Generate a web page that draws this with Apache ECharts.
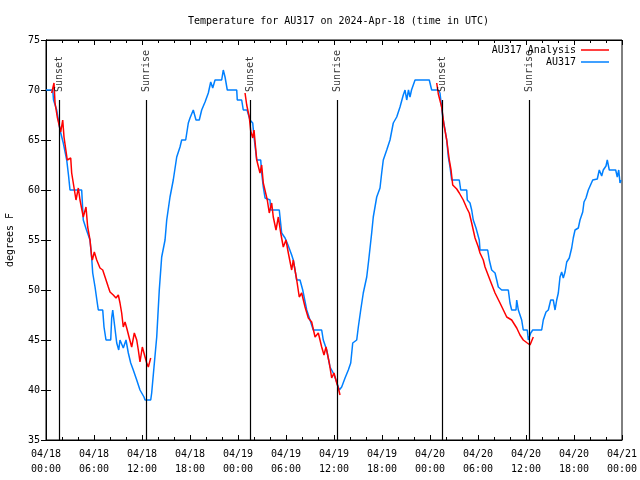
<!DOCTYPE html>
<html><head><meta charset="utf-8">
<script src="https://cdn.jsdelivr.net/npm/echarts@6/dist/echarts.min.js"></script>
<style>html,body{margin:0;padding:0;background:#fff}#c{width:640px;height:480px}</style>
</head><body><div id="c"></div>
<script>
const titleText = 'Temperature for AU317 on 2024-Apr-18 (time in UTC)';
const yAxisTitle = 'degrees F';
const xTickLabels = ['04/18\n00:00','04/18\n06:00','04/18\n12:00','04/18\n18:00','04/19\n00:00','04/19\n06:00','04/19\n12:00','04/19\n18:00','04/20\n00:00','04/20\n06:00','04/20\n12:00','04/20\n18:00','04/21\n00:00'];
const seriesNames = ['AU317 Analysis', 'AU317'];

// observed AU317 (hours since 04/18 00:00 UTC, degrees F)
const obsHours = [0.00,0.84,0.94,1.34,1.75,2.16,2.59,2.81,3.00,4.46,4.66,5.06,5.50,5.71,5.84,6.13,6.41,6.54,7.09,7.25,7.50,8.09,8.21,8.34,8.50,8.84,9.09,9.25,9.50,9.66,10.00,10.29,10.59,10.91,11.34,11.75,12.25,12.38,13.09,13.21,13.50,13.84,14.16,14.46,14.88,15.09,15.50,15.91,16.34,16.75,16.96,17.46,17.79,18.00,18.41,18.75,19.16,19.46,19.88,20.29,20.59,20.84,21.13,21.96,22.16,22.38,22.66,23.84,23.91,24.46,24.66,25.13,25.50,25.84,26.00,26.34,26.84,26.96,27.16,27.38,28.00,28.09,29.16,29.46,29.88,30.25,30.71,30.91,31.34,31.75,32.09,32.59,33.00,33.41,34.46,34.66,35.09,35.50,35.91,36.25,36.66,36.96,37.38,37.79,38.09,38.34,38.84,39.04,39.34,39.66,40.09,40.34,40.71,40.91,41.34,41.75,41.96,42.16,42.59,43.00,43.41,43.84,44.25,44.66,44.88,45.09,45.31,45.50,45.69,46.13,47.91,48.21,49.04,49.25,49.59,49.88,50.09,50.29,50.50,50.71,51.66,51.84,52.59,52.66,53.00,53.21,53.41,53.75,54.16,54.25,55.21,55.41,55.71,56.13,56.34,56.54,56.96,57.79,58.00,58.21,58.75,58.84,59.04,59.46,59.66,60.16,60.29,60.59,60.84,61.96,62.16,62.50,62.79,63.09,63.41,63.63,63.84,64.04,64.25,64.46,64.66,64.88,65.09,65.41,65.71,65.91,66.13,66.54,66.75,67.09,67.25,67.50,67.79,68.00,68.34,68.91,69.16,69.46,69.66,70.00,70.16,70.41,71.21,71.41,71.59,71.75,71.88];
const obsTemps = [70,70,69,68,66,64.7,63,61.5,60,60,57,56,55,53.2,51.7,50.3,48.7,48,48,46.3,45,45,47.2,48,48,44.7,44,45,45,44.2,45,43.7,42.7,42,41,40,39.3,39,39,39.7,42.3,45.3,50,53.3,55,57,59.3,61,63.3,64.3,65,65,66.7,67.2,68,67,67,68,68.8,69.7,70.8,70.2,71,71,72,71.3,70,70,69,69,68,68,67,66.7,65.3,63,63,61.7,60.3,59.2,59,58,58,55.7,55.2,54.5,53.5,53,51,51,50,48,47,46,46,45,44,42.3,41.7,41,40,40.3,41.2,42,42.7,44.7,45,46.3,48,49.7,51.3,53,55.7,57.3,59.3,60.2,61.7,63,64,65,66.7,67.3,68.3,69.5,70,69,70,69.3,70,71,71,70,70,69.7,67.3,66,65,63.3,62.3,61,61,60,60,59,58.7,58,57,56.2,55,54,54,53,52,51.7,51,50.3,50,50,48.7,48,48,49,48,47,46,46,45,45.7,46,46,47,47.8,48,49,49,48,49,49.7,51.3,51.8,51.2,51.8,52.8,53.2,54.2,55.2,56,56.2,57,57.8,58.8,59.2,60,60.2,61,61.1,62,61.4,62,62.4,63,62,62,61.3,62,60.7,61];

// analysis segments
const anaHours1 = [0.71,1.00,1.13,1.41,1.84,2.09,2.25,2.66,3.09,3.21,3.75,4.04,4.25,4.66,5.00,5.21,5.50,5.71,5.79,6.04,6.34,6.75,7.09,7.38,7.79,8.00,8.41,8.75,9.04,9.25,9.46,9.66,9.88,10.09,10.41,10.71,11.04,11.34,11.54,11.75,12.04,12.38,12.59,12.79,13.09];
const anaTemps1 = [69.7,70.7,68.7,67.3,65.8,67,65.3,63,63.2,61.7,59,60.2,59,57.3,58.3,56.3,55,53.3,53,53.8,53,52.2,52,51.3,50.3,49.8,49.5,49.2,49.5,48.7,47.7,46.3,46.8,46.2,45.2,44.3,45.7,45,44,42.8,44.3,43.3,42.7,42.3,43.2];
const anaHours2 = [24.88,25.09,25.41,25.59,25.84,26.00,26.34,26.75,26.96,27.16,27.66,27.91,28.21,28.41,28.75,29.04,29.34,29.66,30.00,30.29,30.71,30.91,31.34,31.66,31.96,32.38,32.79,33.21,33.63,34.04,34.46,34.75,35.00,35.41,35.71,36.00,36.34,36.54,36.75];
const anaTemps2 = [69.7,68.5,67.3,65.9,65.2,66,63,61.7,62.5,60.7,59,57.7,58.7,57.3,56,57.3,55.7,54.3,55,53.7,52,53,51,49.3,49.7,48.3,47.2,46.8,45.3,45.7,44.3,43.5,44.3,42.7,41.2,41.7,40.7,40.2,39.5];
const anaHours3 = [48.84,49.04,49.46,49.75,50.09,50.41,50.63,50.84,51.34,51.66,52.16,52.59,52.91,53.21,53.63,54.04,54.25,54.66,54.88,55.50,56.13,56.75,57.59,58.21,58.84,59.25,59.66,60.16,60.50,60.75,60.91];
const anaTemps3 = [70.7,69.6,68.3,66.5,65,63,62,60.5,60.1,59.7,59,58.2,57.7,56.7,55.2,54.3,53.7,53,52.3,51,49.7,48.7,47.3,47,46.2,45.5,45,44.7,44.5,44.3,45.3];

// sunrise / sunset events
const sunHours = [1.67, 12.56, 25.54, 36.41, 49.54, 60.41];
const sunLabels = ['Sunset','Sunrise','Sunset','Sunrise','Sunset','Sunrise'];

const FONT = 'DejaVu Sans Mono';
const zip = (a, b) => a.map((v, i) => [v, b[i]]);
const anaData = [].concat(zip(anaHours1, anaTemps1), [[null, null]], zip(anaHours2, anaTemps2), [[null, null]], zip(anaHours3, anaTemps3));
const obsData = zip(obsHours, obsTemps);
const sunLineTop = 69, sunLabelBase = 69.8;

const chart = echarts.init(document.getElementById('c'));
const xBase = {type:'value', min:0, max:72, interval:6, splitLine:{show:false}};
const yBase = {type:'value', min:35, max:75, interval:5, splitLine:{show:false}};
chart.setOption({
  animation:false,
  backgroundColor:'#fff',
  title:{text:titleText, left:183, top:11, textStyle:{fontFamily:FONT, fontSize:10, fontWeight:'normal', color:'#000'}},
  grid:{left:46, right:18, top:40, bottom:40, show:true, borderColor:'#000', borderWidth:1, containLabel:false, outerBoundsMode:'none'},
  legend:{orient:'vertical', right:26, top:39, align:'right', itemWidth:28, itemHeight:1.5, itemGap:0, icon:'rect',
    data:seriesNames, textStyle:{fontFamily:FONT, fontSize:10, color:'#000', lineHeight:12}},
  xAxis:[
    Object.assign({}, xBase, {position:'bottom',
      axisLine:{lineStyle:{color:'#000'}},
      axisTick:{inside:true, length:5, lineStyle:{color:'#000'}},
      minorTick:{show:true, splitNumber:3, length:3, lineStyle:{color:'#000'}},
      axisLabel:{margin:7, fontFamily:FONT, fontSize:10, color:'#000', lineHeight:15, formatter:v => xTickLabels[Math.round(v/6)]}}),
    Object.assign({}, xBase, {position:'top',
      axisLine:{lineStyle:{color:'#000'}},
      axisTick:{inside:true, length:5, lineStyle:{color:'#000'}},
      minorTick:{show:true, splitNumber:3, length:3, lineStyle:{color:'#000'}},
      axisLabel:{show:false}})
  ],
  yAxis:[
    Object.assign({}, yBase, {position:'left', name:yAxisTitle, nameLocation:'middle', nameGap:31, nameRotate:90,
      nameTextStyle:{fontFamily:FONT, fontSize:10, color:'#000'},
      axisLine:{show:true, lineStyle:{color:'#000'}},
      axisTick:{show:true, inside:true, length:5, lineStyle:{color:'#000'}},
      axisLabel:{margin:6, fontFamily:FONT, fontSize:10, color:'#000'}}),
    Object.assign({}, yBase, {position:'right',
      axisLine:{show:true, lineStyle:{color:'#000'}},
      axisTick:{show:true, inside:true, length:5, lineStyle:{color:'#000'}},
      axisLabel:{show:false}})
  ],
  series:[
    {name:seriesNames[0], type:'line', data:anaData, showSymbol:false, symbol:'none', connectNulls:false,
      lineStyle:{color:'#ff0000', width:1.5}, itemStyle:{color:'#ff0000'}, z:4},
    {name:seriesNames[1], type:'line', data:obsData, showSymbol:false, symbol:'none',
      lineStyle:{color:'#0080ff', width:1.5}, itemStyle:{color:'#0080ff'}, z:3},
    {name:'sun', type:'line', data:[], silent:true,
      markLine:{silent:true, symbol:['none','none'], label:{show:false}, animation:false,
        lineStyle:{color:'#000', width:1.2, type:'solid'},
        data:sunHours.map(t => [{coord:[t,35]},{coord:[t,sunLineTop]}])}},
    {name:'sunlabels', type:'scatter', symbolSize:0, silent:true, z:5,
      data:sunHours.map(t => [t, sunLabelBase]),
      label:{show:true, position:'inside', rotate:90, align:'left', verticalAlign:'middle',
        fontFamily:FONT, fontSize:10, color:'#000', formatter:p => sunLabels[p.dataIndex]}}
  ]
});
</script></body></html>
